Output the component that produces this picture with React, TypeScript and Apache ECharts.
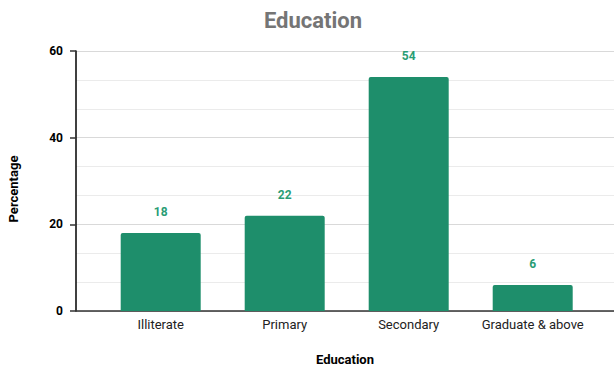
import React, { useEffect, useRef } from "react";
import * as echarts from "echarts";

const categories = ["Illiterate", "Primary", "Secondary", "Graduate & above"];
const values = [18, 22, 54, 6];
const yTicks = [0, 20, 40, 60];

export default function App() {
  const ref = useRef<HTMLDivElement>(null);
  useEffect(() => {
    if (!ref.current) return;
    const chart = echarts.init(ref.current, null, { renderer: "svg" });
    const top = 51;
    const bottom = 60;
    chart.setOption({
      animation: false,
      backgroundColor: "#ffffff",
      textStyle: { fontFamily: "Roboto" },
      title: {
        text: "Education",
        left: 308,
        top: 4,
        textAlign: "center",
        textStyle: { fontFamily: "Roboto", fontSize: 22, fontWeight: "bold", color: "#757575" },
      },
      grid: [
        { left: 76, right: 0, top, bottom, outerBoundsMode: "none", containLabel: false },
        { left: 98.7, right: 19.3, top, bottom, outerBoundsMode: "none", containLabel: false },
      ],
      xAxis: [
        {
          gridIndex: 0,
          type: "value",
          min: 0,
          max: 1,
          axisLine: { show: true, onZero: false, lineStyle: { color: "#333333", width: 1.5 } },
          axisTick: { show: false },
          axisLabel: { show: false },
          splitLine: { show: false },
          name: "Education",
          nameLocation: "middle",
          nameGap: 42,
          nameTextStyle: { fontFamily: "Roboto", fontSize: 13, fontWeight: "bold", color: "#000000" },
        },
        {
          gridIndex: 1,
          type: "category",
          data: categories,
          axisLine: { show: false },
          axisTick: { show: false },
          axisLabel: { interval: 0, fontFamily: "Roboto", fontSize: 13, color: "#222222", margin: 7 },
        },
      ],
      yAxis: [
        {
          gridIndex: 0,
          type: "value",
          min: yTicks[0],
          max: yTicks[yTicks.length - 1],
          interval: 20,
          axisLine: { show: true, lineStyle: { color: "#000000", width: 1.5 } },
          axisTick: { show: true, length: 6, lineStyle: { color: "#333333", width: 1.5 } },
          axisLabel: { fontFamily: "Roboto", fontSize: 12, fontWeight: "bold", color: "#000000", margin: 13 },
          splitLine: { show: true, lineStyle: { color: "#d9d9d9", width: 1 } },
          minorTick: { show: false, splitNumber: 3 },
          minorSplitLine: { show: true, lineStyle: { color: "#ebebeb", width: 1 } },
          name: "Percentage",
          nameLocation: "middle",
          nameGap: 56,
          nameTextStyle: {
            fontFamily: "Roboto",
            fontSize: 13,
            fontWeight: "bold",
            color: "#000000",
            padding: [0, 16, 0, 0],
          },
        },
        {
          gridIndex: 1,
          type: "value",
          min: yTicks[0],
          max: yTicks[yTicks.length - 1],
          show: false,
          splitLine: { show: false },
        },
      ],
      series: [
        {
          type: "bar",
          xAxisIndex: 1,
          yAxisIndex: 1,
          data: values,
          barWidth: 80,
          itemStyle: { color: "#1e8e6b", borderRadius: [2, 2, 0, 0] },
          label: {
            show: true,
            position: "top",
            distance: 15,
            fontFamily: "Roboto",
            fontSize: 12,
            fontWeight: "bold",
            color: "#2a9d75",
          },
        },
      ],
    });
    return () => chart.dispose();
  }, []);
  return (
    <div
      ref={ref}
      style={{ position: "fixed", left: 0, top: 0, width: 614, height: 371 }}
    />
  );
}
